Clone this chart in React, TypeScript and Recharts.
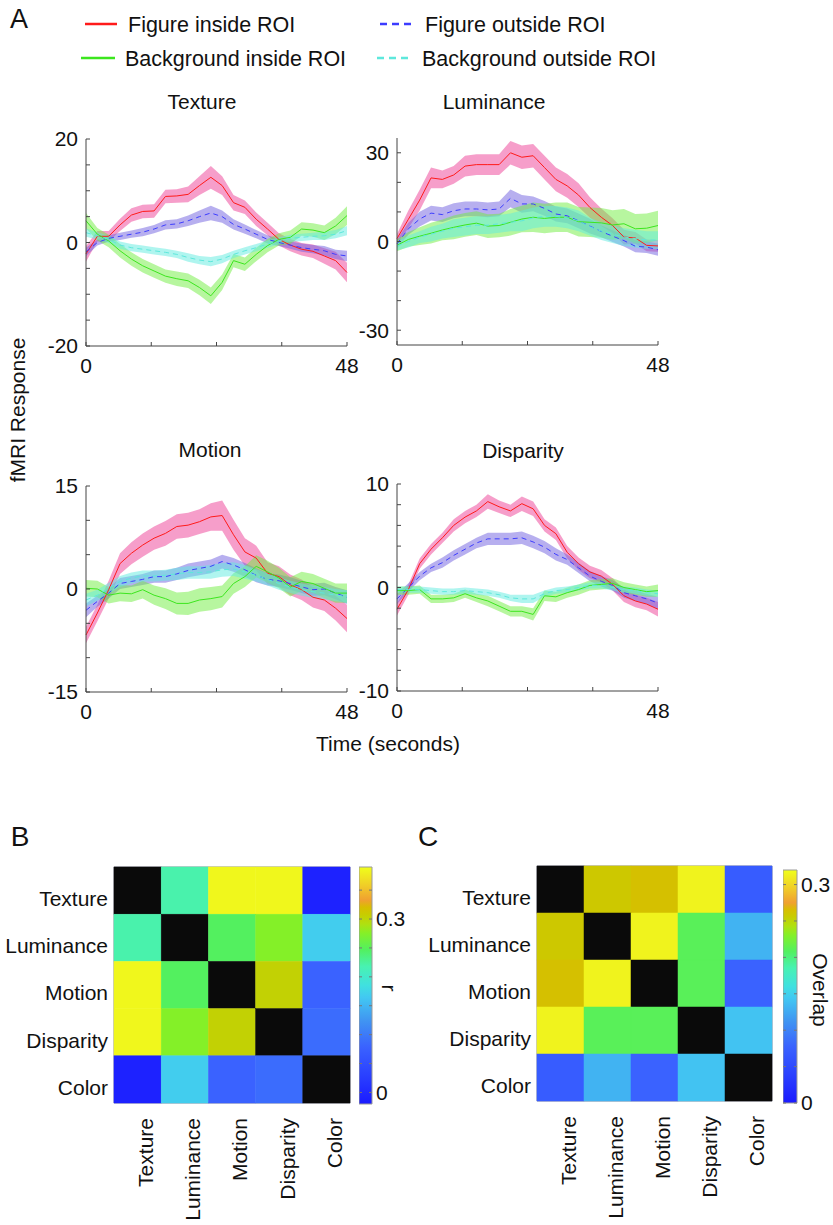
import React from 'react';
import {
  ComposedChart, Area, Line, XAxis, YAxis, ScatterChart, Scatter, ReferenceArea,
} from 'recharts';

const FONT = '"Liberation Sans", Arial, Helvetica, sans-serif';
const AXIS = '#454545';

// 24 volumes over 48 s
const TIME = [0, 2.09, 4.17, 6.26, 8.35, 10.43, 12.52, 14.61, 16.7, 18.78, 20.87, 22.96,
  25.04, 27.13, 29.22, 31.3, 33.39, 35.48, 37.57, 39.65, 41.74, 43.83, 45.91, 48];

// ---- Texture ----
const TEX_FIG_IN = [-2.2, 1.2, 1.2, 3.4, 5.3, 6.0, 6.1, 8.9, 9.0, 9.3, 11.0, 12.6, 11.0, 7.7, 6.8, 4.5, 2.6, 0.6, -0.5, -1.3, -1.7, -2.6, -3.5, -5.8];
const TEX_FIG_IN_ERR = [1.5, 1.0, 1.0, 1.2, 1.3, 1.3, 1.3, 1.3, 1.3, 1.5, 1.8, 2.2, 1.8, 1.5, 1.3, 1.3, 1.2, 1.2, 1.2, 1.2, 1.3, 1.5, 1.7, 1.9];
const TEX_FIG_OUT = [-1.8, 0.0, 0.8, 1.2, 1.6, 2.0, 2.6, 3.4, 3.6, 4.2, 5.0, 5.7, 5.0, 3.5, 2.6, 1.6, 0.6, 0.0, -0.5, -1.0, -1.3, -1.6, -2.3, -2.6];
const TEX_FIG_OUT_ERR = [0.8, 0.6, 0.6, 0.7, 0.7, 0.8, 0.8, 0.9, 0.9, 1.0, 1.2, 1.4, 1.2, 1.0, 0.9, 0.8, 0.8, 0.7, 0.7, 0.8, 0.8, 0.9, 0.9, 1.0];
const TEX_BG_IN = [4.2, 1.6, 0.3, -1.6, -3.2, -4.5, -5.5, -6.5, -7.0, -7.4, -8.7, -10.3, -7.7, -3.5, -4.2, -2.3, -0.6, 0.6, 1.0, 2.6, 2.4, 1.9, 3.2, 5.2];
const TEX_BG_IN_ERR = [1.5, 1.2, 1.2, 1.3, 1.3, 1.3, 1.3, 1.3, 1.4, 1.4, 1.5, 1.6, 1.5, 1.3, 1.3, 1.3, 1.3, 1.2, 1.3, 1.3, 1.3, 1.4, 1.6, 1.8];
const TEX_BG_OUT = [1.9, 1.3, 0.6, -0.5, -1.0, -1.3, -1.6, -1.9, -2.3, -2.9, -3.4, -3.7, -3.2, -2.3, -1.6, -1.0, -0.3, 0.3, 0.8, 1.0, 1.2, 1.3, 1.6, 2.3];
const TEX_BG_OUT_ERR = [0.8, 0.7, 0.7, 0.7, 0.7, 0.7, 0.7, 0.7, 0.7, 0.8, 0.8, 0.9, 0.8, 0.7, 0.7, 0.7, 0.7, 0.7, 0.7, 0.7, 0.7, 0.8, 0.8, 0.9];

// ---- Luminance ----
const LUM_FIG_IN = [1.0, 7.5, 14.0, 21.5, 21.0, 22.5, 25.5, 26.0, 26.0, 26.0, 30.0, 28.5, 29.0, 25.0, 21.0, 18.8, 15.7, 11.5, 8.2, 5.4, 1.5, 1.2, -1.3, -1.5];
const LUM_FIG_IN_ERR = [1.5, 3, 3.5, 3.5, 3, 3, 3.5, 3.5, 3.5, 3.5, 4, 4, 4, 4, 4, 4, 4, 3.5, 3, 2.5, 2.5, 2, 2, 2];
const LUM_FIG_OUT = [-0.8, 4.3, 7.6, 9.6, 9.1, 10.4, 11.0, 11.0, 10.7, 11.0, 14.6, 12.7, 12.7, 11.2, 9.3, 8.7, 7.0, 5.2, 3.4, 1.8, 0.3, -1.6, -1.9, -2.8];
const LUM_FIG_OUT_ERR = [1.5, 2, 2.5, 2.5, 2.5, 2.5, 2.5, 2.5, 2.5, 2.5, 3, 3, 2.5, 2.5, 2.5, 2.5, 2.5, 2.5, 2, 2, 2, 2, 2, 2];
const LUM_BG_IN = [-1.3, 0.7, 1.8, 2.8, 3.9, 4.8, 5.6, 6.2, 5.2, 5.4, 6.5, 7.6, 8.2, 7.8, 8.2, 8.2, 6.7, 6.5, 6.3, 5.6, 6.0, 4.3, 4.5, 5.4];
const LUM_BG_IN_ERR = [2, 2.5, 3, 3.5, 3.5, 4, 4, 4, 4, 4, 4.5, 4.5, 5, 5, 5, 5, 5, 5, 5, 5, 5, 5, 5, 5];
const LUM_BG_OUT = [-1.5, 0.0, 1.5, 2.5, 3.5, 4.5, 5.0, 5.5, 5.5, 6.0, 6.5, 7.0, 8.0, 8.5, 8.5, 8.0, 7.0, 5.0, 3.5, 2.5, 1.5, 1.0, 0.5, 0.5];
const LUM_BG_OUT_ERR = [1.5, 2, 2, 2.5, 2.5, 3, 3, 3, 3, 3, 3, 3.5, 3.5, 3.5, 3.5, 3.5, 3.5, 3, 3, 3, 3, 3, 3, 3];

// ---- Motion ----
const MOT_FIG_IN = [-6.7, -3.5, -0.1, 3.7, 5.2, 6.4, 7.4, 8.1, 9.1, 9.3, 9.8, 10.5, 10.7, 7.9, 5.4, 4.5, 2.3, 1.8, 0.6, -0.1, -1.2, -1.6, -2.8, -4.3];
const MOT_FIG_IN_ERR = [1.2, 1.2, 1.3, 1.5, 1.6, 1.7, 1.7, 1.8, 1.8, 1.8, 1.8, 2.0, 2.2, 2.2, 2.0, 1.8, 1.6, 1.5, 1.5, 1.5, 1.5, 1.6, 1.8, 2.0];
const MOT_FIG_OUT = [-3.1, -1.8, -0.6, 0.8, 1.1, 1.4, 1.8, 1.8, 2.2, 2.7, 3.0, 3.3, 4.0, 3.5, 2.8, 2.0, 1.4, 1.2, 0.8, 0.3, -0.1, 0.0, -0.6, -1.2];
const MOT_FIG_OUT_ERR = [1.0, 0.8, 0.8, 0.8, 0.8, 0.8, 0.9, 0.9, 0.9, 1.0, 1.0, 1.0, 1.0, 1.0, 1.0, 1.0, 0.9, 0.9, 0.9, 0.9, 0.9, 0.9, 0.9, 1.0];
const MOT_BG_IN = [0.1, 0.0, -0.9, -0.6, -0.7, -0.1, -0.9, -1.4, -2.1, -2.1, -1.6, -1.4, -1.1, 0.8, 1.8, 3.3, 2.5, 1.6, 0.3, 1.1, 0.8, 0.1, -0.6, -0.6];
const MOT_BG_IN_ERR = [1.2, 1.2, 1.2, 1.2, 1.2, 1.3, 1.4, 1.5, 1.6, 1.7, 1.7, 1.7, 1.6, 1.5, 1.5, 1.6, 1.6, 1.5, 1.4, 1.4, 1.4, 1.4, 1.4, 1.4];
const MOT_BG_OUT = [-1.6, -0.9, 0.1, 1.1, 1.6, 1.9, 1.9, 2.0, 2.2, 2.4, 2.4, 2.5, 2.8, 2.9, 2.5, 2.0, 1.4, 0.8, 0.3, -0.1, -0.4, -0.6, -0.9, -1.1];
const MOT_BG_OUT_ERR = [0.9, 0.8, 0.8, 0.8, 0.8, 0.8, 0.8, 0.8, 0.9, 0.9, 0.9, 1.0, 1.0, 1.0, 1.0, 0.9, 0.9, 0.9, 0.9, 0.9, 0.9, 0.9, 0.9, 0.9];

// ---- Disparity ----
const DIS_FIG_IN = [-2.1, -0.2, 2.3, 3.7, 4.8, 6.0, 6.8, 7.4, 8.3, 7.8, 7.4, 8.1, 7.6, 6.0, 5.2, 3.4, 2.3, 1.5, 1.1, 0.3, -0.8, -1.3, -1.6, -2.1];
const DIS_FIG_IN_ERR = [0.6, 0.5, 0.5, 0.5, 0.5, 0.6, 0.6, 0.6, 0.7, 0.6, 0.6, 0.7, 0.7, 0.6, 0.6, 0.6, 0.6, 0.6, 0.6, 0.6, 0.6, 0.6, 0.6, 0.7];
const DIS_FIG_OUT = [-1.1, 0.0, 1.1, 1.9, 2.4, 3.1, 3.7, 4.3, 4.7, 4.7, 4.7, 4.8, 4.4, 3.9, 3.2, 2.7, 1.9, 1.1, 0.6, 0.2, -0.5, -0.8, -1.1, -1.5];
const DIS_FIG_OUT_ERR = [0.5, 0.4, 0.4, 0.4, 0.5, 0.5, 0.5, 0.5, 0.6, 0.6, 0.6, 0.6, 0.6, 0.6, 0.6, 0.5, 0.5, 0.5, 0.5, 0.5, 0.5, 0.5, 0.5, 0.6];
const DIS_BG_IN = [-0.3, -0.3, -0.2, -1.1, -1.1, -1.0, -0.6, -1.0, -1.3, -1.8, -2.3, -2.3, -2.6, -0.8, -0.9, -0.5, -0.2, 0.2, 0.3, 0.4, 0.0, -0.2, -0.4, -0.3];
const DIS_BG_IN_ERR = [0.4, 0.4, 0.4, 0.4, 0.4, 0.4, 0.4, 0.4, 0.5, 0.5, 0.5, 0.5, 0.6, 0.5, 0.5, 0.5, 0.5, 0.5, 0.5, 0.5, 0.5, 0.5, 0.5, 0.6];
const DIS_BG_OUT = [-0.2, -0.2, -0.2, -0.3, -0.4, -0.4, -0.3, -0.4, -0.5, -0.7, -1.0, -1.1, -1.1, -0.6, -0.3, -0.2, 0.0, 0.2, 0.2, 0.0, -0.2, -0.3, -0.5, -0.6];
const DIS_BG_OUT_ERR = [0.3, 0.3, 0.3, 0.3, 0.3, 0.3, 0.3, 0.3, 0.3, 0.3, 0.3, 0.4, 0.4, 0.3, 0.3, 0.3, 0.3, 0.3, 0.3, 0.3, 0.3, 0.3, 0.3, 0.3];

// ---- Matrices (B: correlation r, C: overlap) ----
const CONDITIONS = ['Texture', 'Luminance', 'Motion', 'Disparity', 'Color'];
const R_TEXTURE = [null, 0.22, 0.385, 0.385, -0.01];
const R_LUMINANCE = [0.22, null, 0.247, 0.275, 0.169];
const R_MOTION = [0.385, 0.247, null, 0.304, 0.078];
const R_DISPARITY = [0.385, 0.275, 0.304, null, 0.087];
const R_COLOR = [-0.01, 0.169, 0.078, 0.087, null];

const OV_TEXTURE = [null, 0.259, 0.264, 0.314, 0.07];
const OV_LUMINANCE = [0.259, null, 0.314, 0.211, 0.131];
const OV_MOTION = [0.264, 0.314, null, 0.211, 0.077];
const OV_DISPARITY = [0.314, 0.211, 0.211, null, 0.141];
const OV_COLOR = [0.07, 0.131, 0.077, 0.141, null];

// colormap (fraction -> colour)
const CMAP_POS = [0, 0.12, 0.24, 0.35, 0.45, 0.5, 0.58, 0.65, 0.72, 0.76, 0.8, 0.83, 0.86, 0.92, 1];
const CMAP_COL = ['#1a1aff', '#2a40ff', '#3a62ff', '#4094f2', '#42c8f2', '#40e0e0', '#48f2b2', '#52f060',
  '#84f028', '#b0e010', '#c8cc00', '#d8be00', '#f0a030', '#f0cc28', '#f0ff1a'];

const hex = (c: string) => [1, 3, 5].map((k) => parseInt(c.slice(k, k + 2), 16));
function cmap(f: number) {
  const t = Math.max(0, Math.min(1, f));
  let k = 0;
  while (k < CMAP_POS.length - 2 && t > CMAP_POS[k + 1]) k++;
  const a = hex(CMAP_COL[k]);
  const b = hex(CMAP_COL[k + 1]);
  const u = (t - CMAP_POS[k]) / (CMAP_POS[k + 1] - CMAP_POS[k]);
  const m = a.map((v, i) => Math.round(v + (b[i] - v) * u));
  return `rgb(${m[0]},${m[1]},${m[2]})`;
}

const RED = '#ff1a1a', RED_BAND = '#ee3d96';
const BLUE = '#3c3cff', BLUE_BAND = '#7060e0';
const GREEN = '#3ce61e', GREEN_BAND = '#70ee40';
const CYAN = '#5ee8dc', CYAN_BAND = '#60ece0';

type Set4 = { fi: number[]; fiE: number[]; fo: number[]; foE: number[]; bi: number[]; biE: number[]; bo: number[]; boE: number[] };

function buildRows(s: Set4) {
  return TIME.map((t, i) => ({
    t,
    fi: s.fi[i], fiBand: [s.fi[i] - s.fiE[i], s.fi[i] + s.fiE[i]],
    fo: s.fo[i], foBand: [s.fo[i] - s.foE[i], s.fo[i] + s.foE[i]],
    bi: s.bi[i], biBand: [s.bi[i] - s.biE[i], s.bi[i] + s.biE[i]],
    bo: s.bo[i], boBand: [s.bo[i] - s.boE[i], s.bo[i] + s.boE[i]],
  }));
}

const X_MARGIN = 12;
const Y_MARGIN = 8;

function XTick(props: any, labels: number[]) {
  const { x, y, payload } = props;
  const axisY = y - X_MARGIN;
  return (
    <g>
      <line x1={x} x2={x} y1={axisY} y2={axisY - 4} stroke={AXIS} />
      {labels.includes(payload.value) && (
        <text x={x} y={y} dy="0.71em" textAnchor="middle" fontSize={21} fontFamily={FONT} fill="#111">
          {payload.value}
        </text>
      )}
    </g>
  );
}

function YTick(props: any, labels: number[]) {
  const { x, y, payload } = props;
  const axisX = x + Y_MARGIN;
  return (
    <g>
      <line x1={axisX} x2={axisX + 4} y1={y} y2={y} stroke={AXIS} />
      {labels.includes(payload.value) && (
        <text x={x} y={y} dy="0.35em" textAnchor="end" fontSize={21} fontFamily={FONT} fill="#111">
          {payload.value}
        </text>
      )}
    </g>
  );
}

function TimePanel({ s, left, top, w, h, domain, ticks, labels }: {
  s: Set4; left: number; top: number; w: number; h: number; domain: [number, number]; ticks: number[]; labels: number[];
}) {
  const YW = 60, MT = 20, MR = 18, XH = 40;
  const rows = buildRows(s);
  return (
    <div style={{ position: 'absolute', left: left - YW, top: top - MT }}>
      <ComposedChart width={YW + w + MR} height={MT + h + XH} data={rows} margin={{ top: MT, right: MR, left: 0, bottom: 0 }}>
        <XAxis dataKey="t" type="number" domain={[0, 48]} ticks={[0, 12, 24, 36, 48]} interval={0}
          tickSize={0} tickMargin={X_MARGIN} tickLine={false} height={XH} axisLine={{ stroke: AXIS }}
          tick={(p: any) => XTick(p, [0, 48])} />
        <YAxis type="number" domain={domain} ticks={ticks} interval={0} allowDataOverflow width={YW}
          tickSize={0} tickMargin={Y_MARGIN} tickLine={false} axisLine={{ stroke: AXIS }}
          tick={(p: any) => YTick(p, labels)} />
        <Area dataKey="fiBand" type="linear" stroke="none" fill={RED_BAND} fillOpacity={0.5} isAnimationActive={false} activeDot={false} />
        <Area dataKey="foBand" type="linear" stroke="none" fill={BLUE_BAND} fillOpacity={0.5} isAnimationActive={false} activeDot={false} />
        <Area dataKey="biBand" type="linear" stroke="none" fill={GREEN_BAND} fillOpacity={0.5} isAnimationActive={false} activeDot={false} />
        <Area dataKey="boBand" type="linear" stroke="none" fill={CYAN_BAND} fillOpacity={0.5} isAnimationActive={false} activeDot={false} />
        <Line dataKey="fi" type="linear" stroke={RED} strokeWidth={1} dot={false} isAnimationActive={false} />
        <Line dataKey="fo" type="linear" stroke={BLUE} strokeWidth={1} strokeDasharray="5 4" dot={false} isAnimationActive={false} />
        <Line dataKey="bi" type="linear" stroke={GREEN} strokeWidth={1} dot={false} isAnimationActive={false} />
        <Line dataKey="bo" type="linear" stroke={CYAN} strokeWidth={1} strokeDasharray="5 4" dot={false} isAnimationActive={false} />
      </ComposedChart>
    </div>
  );
}

function Heatmap({ rows, domain, left, top, size, yw }: {
  rows: (number | null)[][]; domain: [number, number]; left: number; top: number; size: number; yw: number;
}) {
  const MT = 10, MR = 4, XH = 120;
  const cell = size / CONDITIONS.length;
  const cells = rows.flatMap((r, ri) => r.map((v, ci) => ({ col: ci, row: ri, v })));
  const shape = (p: any) => {
    const v = p.payload.v;
    const fill = v == null ? '#0a0a0a' : cmap((v - domain[0]) / (domain[1] - domain[0]));
    return <rect x={p.cx - cell / 2} y={p.cy - cell / 2} width={cell} height={cell} fill={fill} stroke={fill} strokeWidth={0.5} />;
  };
  const xTick = (p: any) => (
    <text transform={`translate(${p.x + 8},${p.y}) rotate(-90)`} dy="0.35em" textAnchor="end" fontSize={21} fontFamily={FONT} fill="#111">
      {CONDITIONS[p.payload.value]}
    </text>
  );
  const yTick = (p: any) => (
    <text x={p.x} y={p.y + 8} dy="0.35em" textAnchor="end" fontSize={21} fontFamily={FONT} fill="#111">
      {CONDITIONS[p.payload.value]}
    </text>
  );
  return (
    <div style={{ position: 'absolute', left: left - yw, top: top - MT }}>
      <ScatterChart width={yw + size + MR} height={MT + size + XH} margin={{ top: MT, right: MR, left: 0, bottom: 0 }}>
        <XAxis dataKey="col" type="number" domain={[-0.5, 4.5]} ticks={[0, 1, 2, 3, 4]} interval={0}
          tickSize={0} tickMargin={15} tickLine={false} axisLine={false} height={XH} tick={xTick} />
        <YAxis dataKey="row" type="number" domain={[-0.5, 4.5]} ticks={[0, 1, 2, 3, 4]} interval={0} reversed
          tickSize={0} tickMargin={6} tickLine={false} axisLine={false} width={yw} tick={yTick} />
        <Scatter data={cells} shape={shape} isAnimationActive={false} />
        <ReferenceArea x1={-0.5} x2={4.5} y1={-0.5} y2={4.5} fill="none" stroke="#8c8c9c" strokeWidth={1} />
      </ScatterChart>
    </div>
  );
}

function ColorBar({ id, domain, ticks, labels, left, top, w, h }: {
  id: string; domain: [number, number]; ticks: number[]; labels: number[]; left: number; top: number; w: number; h: number;
}) {
  const MT = 14, YW = 44;
  const tick = (p: any) => {
    const axisX = p.x - 4;
    return (
      <g>
        <line x1={axisX} x2={axisX - 3} y1={p.y} y2={p.y} stroke="#777" />
        <line x1={axisX - w} x2={axisX - w + 3} y1={p.y} y2={p.y} stroke="#777" />
        {labels.includes(p.payload.value) && (
          <text x={p.x} y={p.y} dy="0.35em" textAnchor="start" fontSize={21} fontFamily={FONT} fill="#111">
            {p.payload.value}
          </text>
        )}
      </g>
    );
  };
  return (
    <div style={{ position: 'absolute', left, top: top - MT }}>
      <ComposedChart width={w + YW} height={h + 2 * MT} data={[{ x: 0 }, { x: 1 }]} margin={{ top: MT, right: 0, left: 0, bottom: MT }}>
        <defs>
          <linearGradient id={id} x1="0" y1="1" x2="0" y2="0">
            {CMAP_POS.map((p, i) => <stop key={i} offset={p} stopColor={CMAP_COL[i]} />)}
          </linearGradient>
        </defs>
        <XAxis dataKey="x" type="number" domain={[0, 1]} hide />
        <YAxis orientation="right" type="number" domain={domain} ticks={ticks} interval={0} allowDataOverflow width={YW}
          tickSize={0} tickMargin={4} tickLine={false} axisLine={false} tick={tick} />
        <ReferenceArea x1={0} x2={1} y1={domain[0]} y2={domain[1]} fill={`url(#${id})`} fillOpacity={1} stroke="#9a9a9a" strokeWidth={1} />
      </ComposedChart>
    </div>
  );
}

const txt = (s: React.CSSProperties): React.CSSProperties => ({
  position: 'absolute', fontFamily: FONT, fontSize: 21, color: '#111', lineHeight: 1, whiteSpace: 'nowrap',
  transform: 'translate(-50%, -50%)', ...s,
});

export default function App() {
  const tex = { fi: TEX_FIG_IN, fiE: TEX_FIG_IN_ERR, fo: TEX_FIG_OUT, foE: TEX_FIG_OUT_ERR, bi: TEX_BG_IN, biE: TEX_BG_IN_ERR, bo: TEX_BG_OUT, boE: TEX_BG_OUT_ERR };
  const lum = { fi: LUM_FIG_IN, fiE: LUM_FIG_IN_ERR, fo: LUM_FIG_OUT, foE: LUM_FIG_OUT_ERR, bi: LUM_BG_IN, biE: LUM_BG_IN_ERR, bo: LUM_BG_OUT, boE: LUM_BG_OUT_ERR };
  const mot = { fi: MOT_FIG_IN, fiE: MOT_FIG_IN_ERR, fo: MOT_FIG_OUT, foE: MOT_FIG_OUT_ERR, bi: MOT_BG_IN, biE: MOT_BG_IN_ERR, bo: MOT_BG_OUT, boE: MOT_BG_OUT_ERR };
  const dis = { fi: DIS_FIG_IN, fiE: DIS_FIG_IN_ERR, fo: DIS_FIG_OUT, foE: DIS_FIG_OUT_ERR, bi: DIS_BG_IN, biE: DIS_BG_IN_ERR, bo: DIS_BG_OUT, boE: DIS_BG_OUT_ERR };

  return (
    <div style={{ position: 'absolute', left: 0, top: 0, width: 833, height: 1225, background: '#fff', overflow: 'hidden' }}>
      <div style={txt({ left: 19, top: 19, fontSize: 27 })}>A</div>

      <svg width={833} height={80} style={{ position: 'absolute', left: 0, top: 0 }}>
        <line x1={85} x2={117} y1={24} y2={24} stroke={RED} strokeWidth={2.5} />
        <text x={128} y={24} dy="0.35em" fontSize={21.5} fontFamily={FONT} fill="#111">Figure inside ROI</text>
        <line x1={380} x2={413} y1={24} y2={24} stroke={BLUE} strokeWidth={2.5} strokeDasharray="7 5" />
        <text x={425} y={24} dy="0.35em" fontSize={21.5} fontFamily={FONT} fill="#111">Figure outside ROI</text>
        <line x1={81} x2={115} y1={58} y2={58} stroke={GREEN} strokeWidth={2.5} />
        <text x={125} y={58} dy="0.35em" fontSize={21.5} fontFamily={FONT} fill="#111">Background inside ROI</text>
        <line x1={377} x2={410} y1={58} y2={58} stroke={CYAN} strokeWidth={2.5} strokeDasharray="7 5" />
        <text x={422} y={58} dy="0.35em" fontSize={21.5} fontFamily={FONT} fill="#111">Background outside ROI</text>
      </svg>

      <div style={txt({ left: 202, top: 101 })}>Texture</div>
      <div style={txt({ left: 494, top: 101 })}>Luminance</div>
      <div style={txt({ left: 210, top: 449 })}>Motion</div>
      <div style={txt({ left: 523, top: 450 })}>Disparity</div>

      <TimePanel s={tex} left={86} top={139} w={261} h={207} domain={[-20, 20]}
        ticks={[-20, -15, -10, -5, 0, 5, 10, 15, 20]} labels={[-20, 0, 20]} />
      <TimePanel s={lum} left={397} top={138} w={261} h={207} domain={[-35, 35]}
        ticks={[-30, -20, -10, 0, 10, 20, 30]} labels={[-30, 0, 30]} />
      <TimePanel s={mot} left={86} top={486} w={261} h={206} domain={[-15, 15]}
        ticks={[-15, -10, -5, 0, 5, 10, 15]} labels={[-15, 0, 15]} />
      <TimePanel s={dis} left={397} top={484} w={261} h={207} domain={[-10, 10]}
        ticks={[-10, -8, -6, -4, -2, 0, 2, 4, 6, 8, 10]} labels={[-10, 0, 10]} />

      <div style={txt({ left: 17, top: 410, transform: 'translate(-50%, -50%) rotate(-90deg)' })}>fMRI Response</div>
      <div style={txt({ left: 388, top: 743 })}>Time (seconds)</div>

      <div style={txt({ left: 20, top: 837, fontSize: 28 })}>B</div>
      <div style={txt({ left: 428, top: 837, fontSize: 28 })}>C</div>

      <Heatmap rows={[R_TEXTURE, R_LUMINANCE, R_MOTION, R_DISPARITY, R_COLOR]} domain={[-0.02, 0.39]}
        left={114} top={867} size={236} yw={112} />
      <ColorBar id="cbB" domain={[-0.02, 0.39]} ticks={[0, 0.05, 0.1, 0.15, 0.2, 0.25, 0.3, 0.35]} labels={[0, 0.3]}
        left={359} top={867} w={13} h={237} />
      <div style={txt({ left: 389, top: 988, transform: 'translate(-50%, -50%) rotate(90deg)' })}>r</div>

      <Heatmap rows={[OV_TEXTURE, OV_LUMINANCE, OV_MOTION, OV_DISPARITY, OV_COLOR]} domain={[0, 0.32]}
        left={537} top={866} size={235} yw={120} />
      <ColorBar id="cbC" domain={[0, 0.32]} ticks={[0, 0.05, 0.1, 0.15, 0.2, 0.25, 0.3]} labels={[0, 0.3]}
        left={783} top={870} w={14} h={233} />
      <div style={txt({ left: 820, top: 990, transform: 'translate(-50%, -50%) rotate(90deg)' })}>Overlap</div>
    </div>
  );
}
